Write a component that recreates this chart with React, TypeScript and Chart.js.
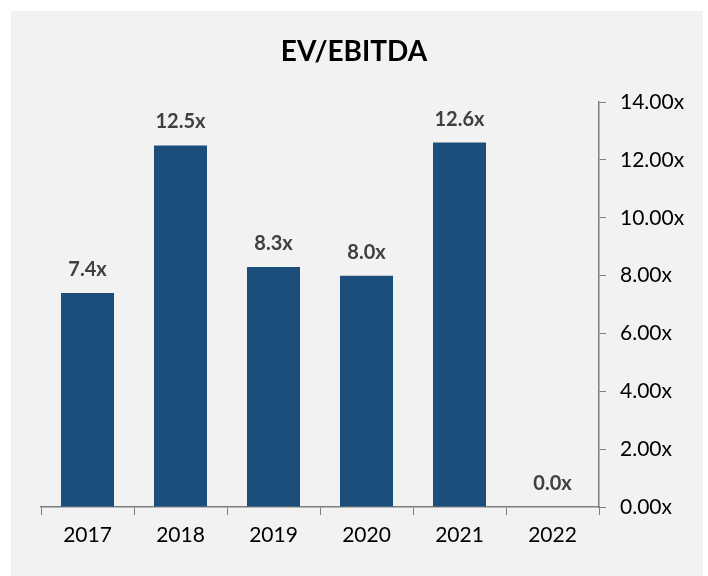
import React, { useEffect, useRef } from "react";
import { Chart, registerables } from "chart.js";

Chart.register(...registerables);

const categories = ["2017", "2018", "2019", "2020", "2021", "2022"];
const values = [7.4, 12.5, 8.3, 8.0, 12.6, 0.0];
const yTicks = [0, 2, 4, 6, 8, 10, 12, 14];
const titleText = "EV/EBITDA";

const FONT = "Lato, 'Noto Sans', sans-serif";

const bgPlugin = {
  id: "bgPanel",
  beforeDraw(chart: any) {
    const { ctx } = chart;
    ctx.save();
    ctx.fillStyle = "#ffffff";
    ctx.fillRect(0, 0, chart.width, chart.height);
    ctx.fillStyle = "#F2F2F2";
    ctx.fillRect(11, 11, 692, chart.height - 11);
    ctx.restore();
  },
};

const labelPlugin = {
  id: "barLabels",
  afterDatasetsDraw(chart: any) {
    const { ctx } = chart;
    const meta = chart.getDatasetMeta(0);
    ctx.save();
    ctx.font = `bold 20px ${FONT}`;
    ctx.fillStyle = "#404040";
    ctx.textAlign = "center";
    ctx.textBaseline = "alphabetic";
    meta.data.forEach((bar: any, i: number) => {
      const v = values[i];
      ctx.fillText(v.toFixed(1) + "x", bar.x, bar.y - 17);
    });
    ctx.restore();
  },
};

export default function App() {
  const ref = useRef<HTMLCanvasElement | null>(null);
  useEffect(() => {
    if (!ref.current) return;
    const chart = new Chart(ref.current, {
      type: "bar",
      data: {
        labels: categories,
        datasets: [
          {
            data: values,
            backgroundColor: "#1C4E7B",
            borderWidth: 0,
            categoryPercentage: 1,
            barPercentage: 0.57,
            yAxisID: "y",
          },
        ],
      },
      options: {
        animation: false,
        responsive: false,
        maintainAspectRatio: false,
        layout: { padding: { left: 0, right: 0, top: 0, bottom: 0 } },
        plugins: {
          legend: { display: false },
          tooltip: { enabled: false },
          title: {
            display: true,
            text: titleText,
            color: "#000000",
            font: { family: FONT, size: 28, weight: "bold", lineHeight: 1.2 },
            padding: { top: 35.5, bottom: 33 },
          },
        },
        scales: {
          x: {
            offset: true,
            grid: {
              offset: true,
              drawOnChartArea: false,
              drawTicks: true,
              tickLength: 8,
              color: "#7F7F7F",
            },
            border: { display: true, color: "#7F7F7F", width: 1.5 },
            ticks: {
              color: "#000000",
              font: { family: FONT, size: 21 },
              padding: 8,
            },
            afterFit(scale: any) {
              scale.height = 69;
            },
          },
          yLeft: {
            position: "left",
            display: true,
            min: 0,
            max: 1,
            grid: { display: false, drawTicks: false },
            border: { display: false },
            ticks: { display: false },
            afterFit(scale: any) {
              scale.width = 41;
            },
          },
          y: {
            position: "right",
            min: 0,
            max: 14,
            afterBuildTicks(scale: any) {
              scale.ticks = yTicks.map((v) => ({ value: v }));
            },
            grid: {
              drawOnChartArea: false,
              drawTicks: true,
              tickLength: 7,
              color: "#7F7F7F",
            },
            border: { display: true, color: "#7F7F7F", width: 1.5 },
            ticks: {
              color: "#000000",
              font: { family: FONT, size: 21 },
              padding: 14,
              callback: (v: any) => Number(v).toFixed(2) + "x",
            },
            afterFit(scale: any) {
              scale.width = 109;
            },
          },
        },
      },
      plugins: [bgPlugin, labelPlugin],
    });
    return () => chart.destroy();
  }, []);
  return (
    <div
      style={{
        position: "fixed",
        left: 0,
        top: 0,
        width: 708,
        height: 576,
        background: "#ffffff",
      }}
    >
      <canvas ref={ref} width={708} height={576} style={{ width: 708, height: 576, display: "block" }} />
    </div>
  );
}
